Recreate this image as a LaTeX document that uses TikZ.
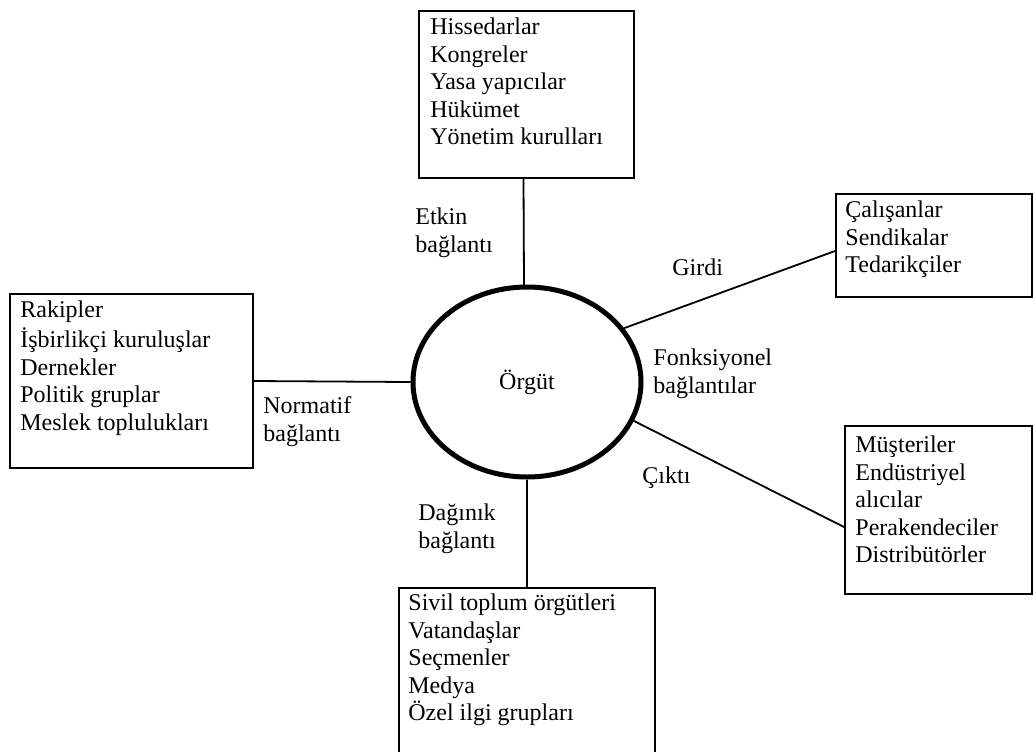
\documentclass[tikz,border=0pt]{standalone}
\usepackage{fontspec}
\setmainfont{Liberation Serif}
\usetikzlibrary{shapes.geometric,fit}
\begin{document}
\begin{tikzpicture}[x=0.5pt,y=-0.5pt,
  box/.style={draw,line width=1pt,rectangle,inner sep=0pt},
  txt/.style={anchor=north west,inner sep=0pt,align=left,font=\fontsize{12}{13.8}\selectfont},
  conn/.style={line width=0.9pt},
  orgnode/.style={draw,ellipse,line width=2.5pt,inner sep=0pt,minimum width=114pt,minimum height=95pt,font=\fontsize{12}{13.8}\selectfont}]
\useasboundingbox (0,0) rectangle (1033,751);
\clip (0,0) rectangle (1033,751);
% boxes
\node[box,fit={(419,11) (634,178)}] (top) {};
\node[box,fit={(836,194) (1032,297)}] (rt) {};
\node[box,fit={(10,294) (253,468)}] (lb) {};
\node[box,fit={(845,426) (1032,594)}] (rb) {};
\node[box,fit={(399,588) (655,780)}] (bb) {};
% centre
\node[orgnode] (org) at (527,382) {Örgüt};
% box texts
\node[txt] (ttop) at (430,14.7) {\strut Hissedarlar\\Kongreler\\Yasa yapıcılar\\Hükümet\\Yönetim kurulları};
\node[txt] (trt) at (845,197.7) {\strut Çalışanlar\\Sendikalar\\Tedarikçiler};
\node[txt] (tlb) at (20,297.7) {\strut Rakipler\\İşbirlikçi kuruluşlar\\Dernekler\\Politik gruplar\\Meslek toplulukları};
\node[txt] (tbb) at (408,590.7) {\strut Sivil toplum örgütleri\\Vatandaşlar\\Seçmenler\\Medya\\Özel ilgi grupları};
\node[txt] (trb) at (855,432.7) {\strut Müşteriler\\Endüstriyel\\alıcılar\\Perakendeciler\\Distribütörler};
% connector labels
\node[txt] (letkin) at (415,204.7) {\strut Etkin\\bağlantı};
\node[txt] (lgirdi) at (672,255.7) {\strut Girdi};
\node[txt] (lfonk) at (653,345.7) {\strut Fonksiyonel\\bağlantılar};
\node[txt] (lnorm) at (263,393.7) {\strut Normatif\\bağlantı};
\node[txt] (lcikti) at (642,463.7) {\strut Çıktı};
\node[txt] (ldag) at (418,500.7) {\strut Dağınık\\bağlantı};
% connectors
\draw[conn] ([xshift=-1.5pt]top.south) -- ([xshift=-1.5pt,yshift=-0.3pt]org.north);
\draw[conn] (org.29.4) -- ([yshift=-2.75pt]rt.west);
\draw[conn] (lb.east) -- (org.west);
\draw[conn] (org.-20.9) -- ([yshift=-8.5pt]rb.west);
\draw[conn] (org.south) -- (bb.north);
\end{tikzpicture}
\end{document}
